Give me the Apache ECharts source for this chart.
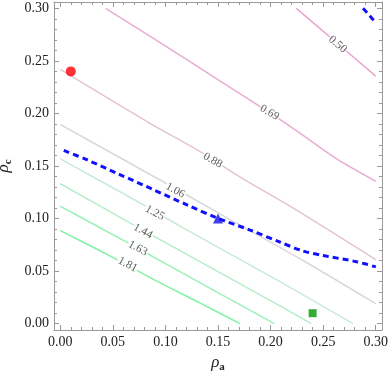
<!DOCTYPE html>
<html><head><meta charset="utf-8">
<script src="https://cdn.jsdelivr.net/npm/echarts@6/dist/echarts.min.js"></script>
<style>html,body{margin:0;padding:0;background:#fff}#c{width:390px;height:384px}</style>
</head><body><div id="c"></div>
<script>
// tick values / labels
const majorTicks = [0.00, 0.05, 0.10, 0.15, 0.20, 0.25, 0.30];
const minorTicks = [0.01,0.02,0.03,0.04,0.06,0.07,0.08,0.09,0.11,0.12,0.13,0.14,0.16,0.17,0.18,0.19,0.21,0.22,0.23,0.24,0.26,0.27,0.28,0.29];

// contour levels
const levels = ['0.50','0.69','0.88','1.06','1.25','1.44','1.63','1.81'];
const c050 = [[0.2245,0.300],[0.262,0.268],[0.300,0.2355]];
const c069 = [[0.0431,0.300],[0.1226,0.2498],[0.1544,0.2292],[0.199,0.2007],[0.2276,0.1816],[0.2626,0.1570],[0.300,0.1355]];
const c088 = [[0.000,0.2419],[0.0845,0.1911],[0.1322,0.1641],[0.1735,0.1380],[0.2212,0.1102],[0.300,0.061]];
const c106 = [[0.000,0.1895],[0.1026,0.1324],[0.159,0.1005],[0.2276,0.062],[0.300,0.019]];
const c125 = [[0.000,0.1568],[0.0803,0.1124],[0.1169,0.0911],[0.2085,0.0403],[0.2784,0.000]];
const c144 = [[0.000,0.1331],[0.0692,0.0943],[0.1035,0.0752],[0.2085,0.0171],[0.2387,0.000]];
const c163 = [[0.000,0.1117],[0.0644,0.0769],[0.1035,0.0552],[0.2037,0.000]];
const c181 = [[0.000,0.0886],[0.0549,0.0605],[0.0914,0.0408],[0.1322,0.0200],[0.171,0.000]];
const contourData = [c050,c069,c088,c106,c125,c144,c163,c181];
const contourColors = ['#e9a3cf','#e8acd2','#e3c3d6','#d9d9d9','#c9ead6','#b3eec8','#9cf1b9','#80f3a6'];

// contour label positions [x, y] and angle
const labelPos = [[0.2638,0.2657],[0.199,0.2007],[0.1449,0.1552],[0.1093,0.1267],[0.0899,0.1054],[0.0786,0.0880],[0.0737,0.0718],[0.0640,0.0562]];
const labelAngle = [40,30,29,29,29,29,28,28];

// blue dashed boundary
const boundaryMain = [[0.0033,0.1648],[0.0246,0.1562],[0.0565,0.1419],[0.0883,0.1276],[0.12,0.1133],[0.1487,0.1007],[0.1799,0.0893],[0.2085,0.0778],[0.2307,0.0692],[0.2500,0.0648],[0.2817,0.0590],[0.3001,0.0540]];
const boundaryCorner = [[0.288,0.300],[0.300,0.2864]];

// markers
const redPoint = [[0.01,0.24]];
const bluePoint = [[0.15,0.10]];
const greenPoint = [[0.24,0.01]];

const FONT = '"Liberation Serif", "DejaVu Serif", serif';
const AX_MIN = -0.006, AX_MAX = 0.306;
const frameColor = '#999';

function mkAxis(pos, minor, labels) {
  return {
    type: 'value', min: AX_MIN, max: AX_MAX, position: pos, gridIndex: 0,
    splitLine: {show: false},
    axisLine: {show: !minor, onZero: false, lineStyle: {color: frameColor, width: 1}},
    axisTick: {show: true, inside: true, length: minor ? 3 : 5, customValues: minor ? minorTicks : majorTicks,
      lineStyle: {color: frameColor, width: 1}},
    axisLabel: {show: labels, customValues: majorTicks, margin: 5,
      formatter: v => v.toFixed(2), color: '#222', fontFamily: FONT, fontSize: 14}
  };
}

const xAxes = [mkAxis('bottom', false, true), mkAxis('bottom', true, false), mkAxis('top', false, false), mkAxis('top', true, false)];
const yAxes = [mkAxis('left', false, true), mkAxis('left', true, false), mkAxis('right', false, false), mkAxis('right', true, false)];
const nameStyle = {rich: {
  r: {fontFamily: FONT, fontStyle: 'italic', fontSize: 17, color: '#222'},
  s: {fontFamily: FONT, fontSize: 11, fontWeight: 'bold', color: '#222', padding: [9,0,0,0]}
}};
xAxes[0].name = '{r|ρ}{s|a}';
xAxes[0].nameLocation = 'middle';
xAxes[0].nameGap = 21;
xAxes[0].nameTextStyle = nameStyle;
yAxes[0].name = '{r|ρ}{s|c}';
yAxes[0].nameLocation = 'middle';
yAxes[0].nameGap = 34;
yAxes[0].nameTextStyle = nameStyle;

const series = [];
contourData.forEach((d, i) => {
  series.push({type: 'line', data: d, smooth: 0.3, showSymbol: false, symbol: 'none', clip: true, z: 2,
    lineStyle: {color: contourColors[i], width: 1.5}, silent: true, animation: false});
});
series.push({type: 'line', data: boundaryMain, smooth: 0.3, symbol: 'none', z: 3, clip: true,
  lineStyle: {color: '#1010ff', width: 3, type: [6,4]}, animation: false});
series.push({type: 'line', data: boundaryCorner, symbol: 'none', z: 3, clip: true,
  lineStyle: {color: '#1010ff', width: 3, type: [6,4]}, animation: false});
series.push({type: 'scatter', data: labelPos.map((p, i) => ({value: p,
    label: {show: true, formatter: levels[i], rotate: -labelAngle[i]}})),
  symbolSize: 0, z: 4, animation: false,
  label: {position: 'inside', fontFamily: FONT, fontSize: 11.5, color: '#333', backgroundColor: '#fff', padding: [0,1]}});
series.push({type: 'scatter', data: redPoint, symbol: 'circle', symbolSize: 10, itemStyle: {color: '#ff0000'}, z: 5, animation: false});
series.push({type: 'scatter', data: bluePoint, symbol: 'triangle', symbolSize: 10, itemStyle: {color: '#1010ee'}, z: 5, animation: false});
series.push({type: 'scatter', data: greenPoint, symbol: 'rect', symbolSize: 8, itemStyle: {color: '#009900'}, z: 5, animation: false});

const chart = echarts.init(document.getElementById('c'), null, {renderer: 'canvas'});
chart.setOption({
  animation: false,
  grid: {left: 54, right: 8, top: 2, bottom: 54, containLabel: false, outerBoundsMode: 'none'},
  xAxis: xAxes,
  yAxis: yAxes,
  series: series
});
</script></body></html>
